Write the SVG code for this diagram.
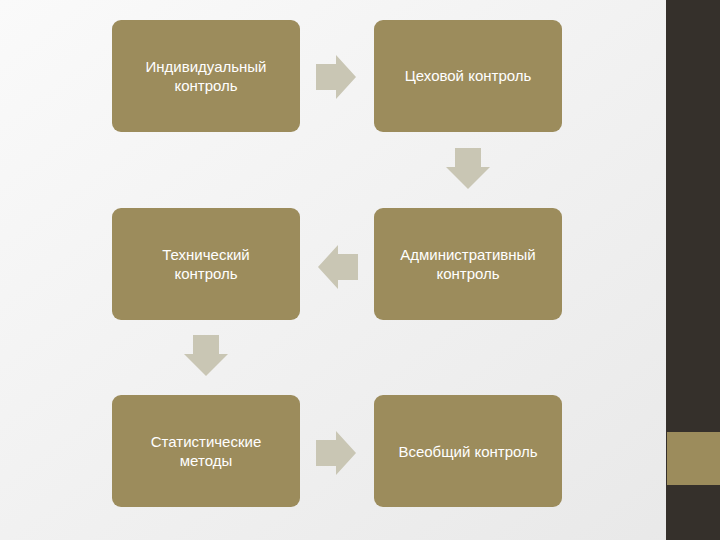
<svg xmlns="http://www.w3.org/2000/svg" width="720" height="540" viewBox="0 0 720 540">
<defs>
<linearGradient id="bg" x1="0" y1="0" x2="1" y2="1"><stop offset="0" stop-color="#fafafa"/><stop offset="1" stop-color="#e8e8e8"/></linearGradient>
<style>
.b{fill:#9c8c5c}
.t{fill:#fff;font-family:"Liberation Sans",Arial,sans-serif;font-size:15px;text-anchor:middle}
.a{fill:#c9c6b4}
</style>
</defs>
<rect width="720" height="540" fill="url(#bg)"/>
<rect x="666" y="0" width="54" height="540" fill="#35302b"/>
<rect x="667" y="432" width="53" height="53" fill="#9c8c5c"/>
<g id="n1"><rect class="b" x="112" y="20" width="188" height="112" rx="9"/><text class="t" x="206" y="72">Индивидуальный</text><text class="t" x="206" y="91">контроль</text></g>
<g id="n2"><rect class="b" x="374" y="20" width="188" height="112" rx="9"/><text class="t" x="468" y="81">Цеховой контроль</text></g>
<g id="n3"><rect class="b" x="374" y="208" width="188" height="112" rx="9"/><text class="t" x="468" y="260">Административный</text><text class="t" x="468" y="279">контроль</text></g>
<g id="n4"><rect class="b" x="112" y="208" width="188" height="112" rx="9"/><text class="t" x="206" y="260">Технический</text><text class="t" x="206" y="279">контроль</text></g>
<g id="n5"><rect class="b" x="112" y="395" width="188" height="112" rx="9"/><text class="t" x="206" y="447">Статистические</text><text class="t" x="206" y="466">методы</text></g>
<g id="n6"><rect class="b" x="374" y="395" width="188" height="112" rx="9"/><text class="t" x="468" y="457">Всеобщий контроль</text></g>
<g id="connectors">
<polygon class="a" points="316,64 336,64 336,55 356,77 336,99 336,90 316,90"/>
<polygon class="a" points="455,148 481,148 481,167 490,167 468,189 446,167 455,167"/>
<polygon class="a" points="358,254 338,254 338,245 318,267 338,289 338,280 358,280"/>
<polygon class="a" points="193,335 219,335 219,354 228,354 206,376 184,354 193,354"/>
<polygon class="a" points="316,440 336,440 336,431 356,453 336,475 336,466 316,466"/>
</g>
</svg>
